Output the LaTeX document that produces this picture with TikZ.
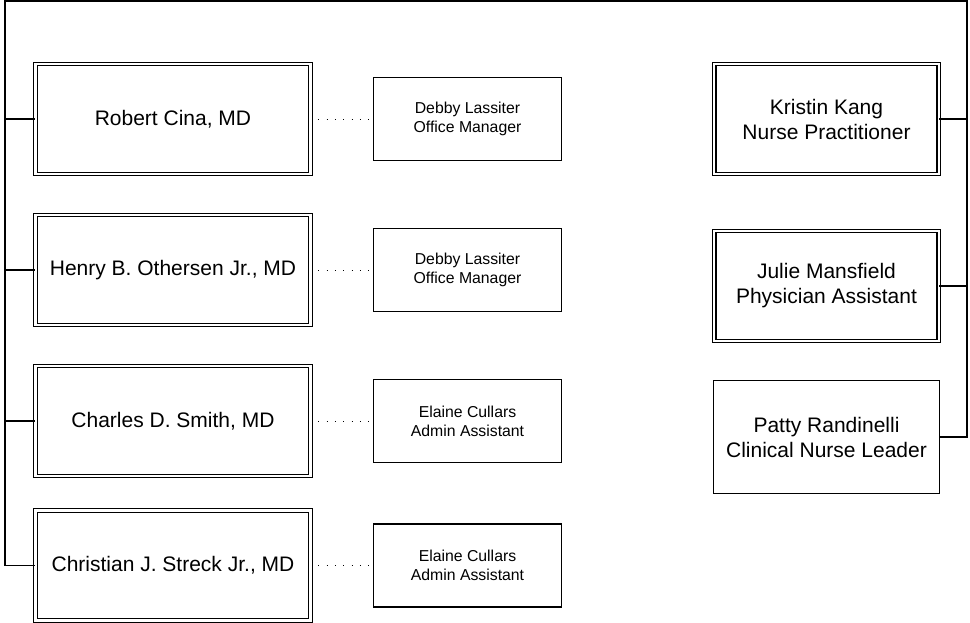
\documentclass[tikz,border=0pt]{standalone}
\usepackage{fontspec}
\setmainfont{Liberation Sans}
\begin{document}
\begin{tikzpicture}[x=1pt,y=-1pt,
  line width=1.2pt,
  dbl/.style={draw, double, double distance=2.4pt, line width=1.1pt, inner sep=0pt,
    minimum width=#1, minimum height=110pt, align=center,
    font=\fontsize{21}{25}\selectfont},
  sgl/.style={draw, line width=1.2pt, inner sep=0pt, minimum width=226pt, minimum height=113pt,
    align=center, font=\fontsize{21}{25}\selectfont},
  sub/.style={draw, line width=1.2pt, inner sep=0pt, minimum width=188pt, minimum height=83pt,
    align=center, font=\fontsize{15.8}{19}\selectfont},
  link/.style={line width=1.2pt},
  dots/.style={line width=0.9pt, dash pattern=on 1pt off 7.3pt, dash phase=1pt}]
\useasboundingbox (0,0) rectangle (970,623);
% main physicians
\node[dbl=275pt] (robert)    at (173,119)   {Robert Cina, MD};
\node[dbl=275pt] (henry)     at (173,270)   {Henry B. Othersen Jr., MD};
\node[dbl=275pt] (charles)   at (173,421)   {Charles D. Smith, MD};
\node[dbl=275pt] (christian) at (173,565.5) {Christian J. Streck Jr., MD};
% assistants
\node[sub] (debby1)  at (467.5,119) {Debby Lassiter\\Office Manager};
\node[sub] (debby2)  at (467.5,270) {Debby Lassiter\\Office Manager};
\node[sub] (elaine1) at (467.5,421) {Elaine Cullars\\Admin Assistant};
\node[sub] (elaine2) at (467.5,565.5) {Elaine Cullars\\Admin Assistant};
% right column
\node[dbl=224.5pt] (kristin) at (826.5,119) {Kristin Kang\\Nurse Practitioner};
\node[dbl=224.5pt] (julie)   at (826.5,286) {Julie Mansfield\\Physician Assistant};
\node[sgl] (patty)   at (826.5,437) {Patty Randinelli\\Clinical Nurse Leader};
% frame connectors
\coordinate (tl) at (5,1);
\coordinate (tr) at (967,1);
\draw[link] (patty.east) -| (tr) -- (tl) |- (christian.west);
\draw[link] (robert.west) -- (robert.west -| tl);
\draw[link] (henry.west) -- (henry.west -| tl);
\draw[link] (charles.west) -- (charles.west -| tl);
\draw[link] (kristin.east) -- (kristin.east -| tr);
\draw[link] (julie.east) -- (julie.east -| tr);
% dotted links
\draw[dots] (robert.east) -- (debby1.west);
\draw[dots] (henry.east) -- (debby2.west);
\draw[dots] (charles.east) -- (elaine1.west);
\draw[dots] (christian.east) -- (elaine2.west);
\end{tikzpicture}
\end{document}
